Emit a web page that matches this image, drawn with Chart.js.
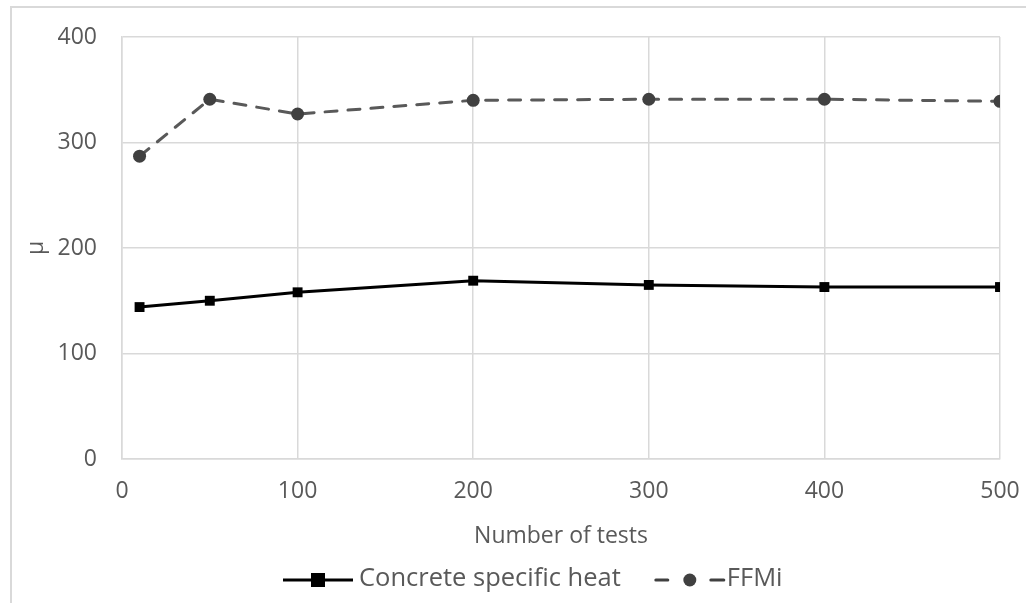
<!DOCTYPE html>
<html>
<head>
<meta charset="utf-8">
<script src="https://cdn.jsdelivr.net/npm/chart.js@4"></script>
<style>
  html, body { margin: 0; padding: 0; background: #fff; }
  #wrap { width: 1026px; height: 603px; position: relative; }
</style>
</head>
<body>
<div id="wrap"><canvas id="c" width="1026" height="603"></canvas></div>
<script>
const testCounts = [10, 50, 100, 200, 300, 400, 500];
const concreteSpecificHeat = [144, 150, 158, 169, 165, 163, 163];
const ffmi = [287, 341, 327, 340, 341, 341, 339];
const xTicks = [0, 100, 200, 300, 400, 500];
const yTicks = [0, 100, 200, 300, 400];
const seriesNames = ['Concrete specific heat', 'FFMi'];
const xTitle = 'Number of tests';
const yTitle = 'μ';

const FONT = '"Open Sans", sans-serif';
const FSIZE = 23;
const LSIZE = 25.5;
const TEXT = '#595959';
const GRID = '#d9d9d9';

function pts(xs, ys) { return xs.map((x, i) => ({ x: x, y: ys[i] })); }

const borderPlugin = {
  id: 'outerBorder',
  beforeDraw(chart) {
    const ctx = chart.ctx;
    ctx.save();
    ctx.strokeStyle = GRID;
    ctx.lineWidth = 2;
    ctx.strokeRect(11, 7, 1100, 700);
    ctx.restore();
  }
};

const legendPlugin = {
  id: 'customLegend',
  afterDraw(chart) {
    const ctx = chart.ctx;
    ctx.save();
    ctx.font = LSIZE + 'px ' + FONT;
    ctx.textBaseline = 'middle';
    ctx.fillStyle = TEXT;
    const y = 580;
    let x = 283;
    ctx.strokeStyle = '#000';
    ctx.lineWidth = 3;
    ctx.setLineDash([]);
    ctx.beginPath(); ctx.moveTo(x, y); ctx.lineTo(x + 70, y); ctx.stroke();
    ctx.fillStyle = '#000';
    ctx.fillRect(x + 35 - 7, y - 7, 14, 14);
    ctx.fillStyle = TEXT;
    ctx.fillText(seriesNames[0], x + 76, y - 1);
    const w1 = ctx.measureText(seriesNames[0]).width;
    x = x + 76 + w1 + 34;
    ctx.strokeStyle = '#404040';
    ctx.lineCap = 'round';
    ctx.lineWidth = 3;
    ctx.beginPath(); ctx.moveTo(x + 1, y); ctx.lineTo(x + 13, y); ctx.stroke();
    ctx.beginPath(); ctx.moveTo(x + 56, y); ctx.lineTo(x + 69, y); ctx.stroke();
    ctx.fillStyle = '#404040';
    ctx.beginPath(); ctx.arc(x + 35, y, 6.5, 0, Math.PI * 2); ctx.fill();
    ctx.fillStyle = TEXT;
    ctx.fillText(seriesNames[1], x + 72, y - 1);
    ctx.restore();
  }
};

new Chart(document.getElementById('c'), {
  type: 'line',
  data: {
    datasets: [
      {
        label: seriesNames[0],
        data: pts(testCounts, concreteSpecificHeat),
        borderColor: '#000',
        backgroundColor: '#000',
        borderWidth: 3,
        pointStyle: 'rect',
        pointRadius: 7,
        pointBorderWidth: 0,
        pointBackgroundColor: '#000',
        tension: 0
      },
      {
        label: seriesNames[1],
        data: pts(testCounts, ffmi),
        borderColor: '#595959',
        backgroundColor: '#404040',
        borderWidth: 3,
        borderDash: [12, 11],
        borderCapStyle: 'round',
        pointStyle: 'circle',
        pointRadius: 6.5,
        pointBorderWidth: 0,
        pointBackgroundColor: '#404040',
        tension: 0
      }
    ]
  },
  options: {
    responsive: false,
    animation: false,
    devicePixelRatio: 1,
    layout: { padding: { left: 0, top: 37, right: 26, bottom: 45 } },
    plugins: { legend: { display: false }, tooltip: { enabled: false } },
    scales: {
      x: {
        type: 'linear',
        min: 0, max: 500,
        afterBuildTicks(axis) { axis.ticks = xTicks.map(v => ({ value: v })); },
        afterFit(axis) { axis.height = 99; axis.paddingRight = 0; axis.paddingLeft = 0; },
        grid: { color: GRID, lineWidth: 1.5, drawTicks: false },
        border: { color: GRID, width: 1.5 },
        ticks: { color: TEXT, font: { family: FONT, size: FSIZE }, padding: 19, maxRotation: 0 },
        title: { display: true, text: xTitle, color: TEXT, font: { family: FONT, size: FSIZE }, padding: { top: 0, bottom: 8 } }
      },
      y: {
        min: 0, max: 400,
        afterBuildTicks(axis) { axis.ticks = yTicks.map(v => ({ value: v })); },
        afterFit(axis) { axis.width = 122; axis.paddingTop = 0; axis.paddingBottom = 0; },
        grid: { color: GRID, lineWidth: 1.5, drawTicks: false },
        border: { color: GRID, width: 1.5 },
        ticks: { color: TEXT, font: { family: FONT, size: FSIZE }, padding: 25 },
        title: { display: true, text: yTitle, color: TEXT, font: { family: FONT, size: FSIZE }, padding: { top: 23, bottom: 0 } }
      }
    }
  },
  plugins: [borderPlugin, legendPlugin]
});
</script>
</body>
</html>
